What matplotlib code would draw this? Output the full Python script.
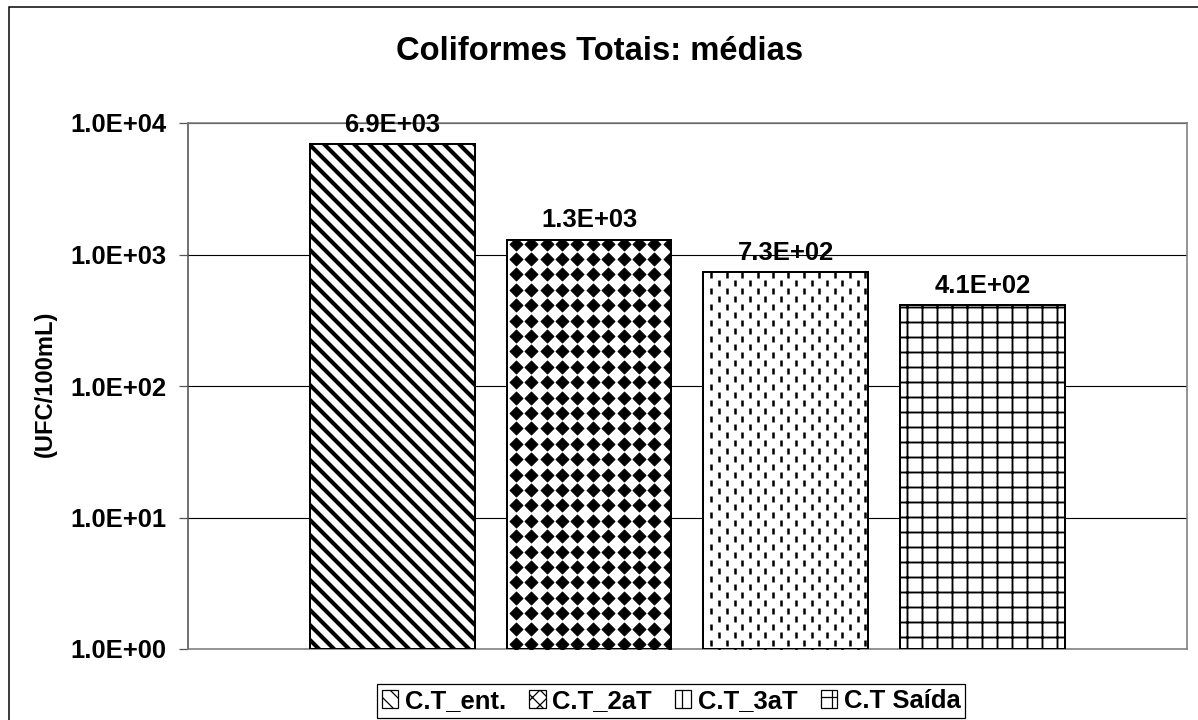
import matplotlib
matplotlib.use('Agg')
import numpy as np
import matplotlib.pyplot as plt
from matplotlib.patches import Patch, Rectangle
from matplotlib.ticker import FuncFormatter, NullLocator
from matplotlib.transforms import IdentityTransform

# Data
series = ['C.T_ent.', 'C.T_2aT', 'C.T_3aT', 'C.T Saída']
means = [6.9e3, 1.3e3, 7.3e2, 4.1e2]
value_labels = ['6.9E+03', '1.3E+03', '7.3E+02', '4.1E+02']
yticks = [1e0, 1e1, 1e2, 1e3, 1e4]
y_floor = 1.0

plt.rcParams['font.family'] = ['Liberation Sans', 'DejaVu Sans']
plt.rcParams['font.weight'] = 'bold'

DPI = 90  # hatch spacing works out to ~15 px at this dpi
W, H = 1198, 720
fig = plt.figure(figsize=(W / DPI, H / DPI), dpi=DPI)
ax = fig.add_axes([188 / W, 71 / H, 999 / W, 526 / H])

ax.set_yscale('log')
ax.set_ylim(yticks[0], yticks[-1])
ax.set_xlim(-1.039, 4.04)


def texture(ax, patch, marker, size, lw, step_x, step_y, x_off, y_off, stagger=False):
    """Fill a bar with a grid of markers (pixel space), clipped to the bar."""
    bb = patch.get_window_extent()
    xs, ys = [], []
    i = 0
    px = bb.x0 + x_off
    while px < bb.x1 + step_x:
        shift = step_y / 2 if (stagger and i % 2) else 0
        py = bb.y1 - y_off - shift
        while py > bb.y0 - step_y:
            xs.append(px)
            ys.append(py)
            py -= step_y
        px += step_x
        i += 1
    sc = ax.scatter(xs, ys, marker=marker, s=size ** 2, c='black', linewidths=lw,
                    transform=IdentityTransform(), zorder=3)
    sc.set_clip_path(patch)
    return sc


x = np.arange(len(series))
hatches = ['\\\\', None, None, '+']
hatch_lw = [3.3, 1.0, 1.0, 1.5]
bars = []
for i in range(len(series)):
    with plt.rc_context({'hatch.linewidth': hatch_lw[i]}):
        b = ax.bar(x[i], means[i] - y_floor, bottom=y_floor, width=0.837,
                   color='white', edgecolor='black', linewidth=0, hatch=hatches[i], zorder=2)
    p = b[0]
    if hasattr(p, 'set_hatch_linewidth'):
        p.set_hatch_linewidth(hatch_lw[i])
    bars.append(p)

# custom fills: diamonds and staggered dashes
texture(ax, bars[1], 'D', 7.3, 0.8, 15.4, 15.4, 9, 4)
texture(ax, bars[2], '|', 5.2, 2.0, 7.7, 16, 8, 3, stagger=True)

# outlines on top
ax.bar(x, np.array(means) - y_floor, bottom=y_floor, width=0.837, fill=False,
       edgecolor='black', linewidth=1.6, zorder=4)

for xi, v, lab in zip(x, means, value_labels):
    ax.annotate(lab, (xi, v), xytext=(0, 6), textcoords='offset points',
                ha='center', va='bottom', fontsize=20.5, fontweight='bold')

# axes styling
ax.set_yticks(yticks)
ax.yaxis.set_minor_locator(NullLocator())
ax.yaxis.set_major_formatter(FuncFormatter(lambda v, _: f'{v:.1E}'))
ax.tick_params(axis='y', length=7.2, width=1, color='#555555', pad=10, labelsize=20.5)
ax.tick_params(axis='x', bottom=False, labelbottom=False)
ax.yaxis.grid(True, color='black', linewidth=0.9)
ax.set_axisbelow(True)
for s in ax.spines.values():
    s.set_color('#808080')
    s.set_linewidth(1.3)
ax.spines['left'].set_color('#555555')

fig.text(600 / W, 1 - 52 / H, 'Coliformes Totais: médias', ha='center', va='center',
         fontsize=26.2, fontweight='bold')
fig.text(45 / W, 1 - 384 / H, '(UFC/100mL)', rotation=90, ha='center', va='center',
         fontsize=19, fontweight='bold')

# chart border (runs past the right and bottom of the image)
fig.patches.append(Rectangle((9 / W, -0.05), 1.2, 1 - 7 / H + 0.05, transform=fig.transFigure,
                             fill=False, edgecolor='black', linewidth=1.2))

handles = [Patch(facecolor='white', edgecolor='black', hatch='\\\\'),
           Patch(facecolor='white', edgecolor='black', hatch='xx'),
           Patch(facecolor='white', edgecolor='black', hatch='|'),
           Patch(facecolor='white', edgecolor='black', hatch='+')]
leg = fig.legend(handles, series, loc='center', bbox_to_anchor=(671 / W, 1 - 701 / H), ncol=4,
                 fontsize=20.5, frameon=True, fancybox=False, edgecolor='black', framealpha=1,
                 handlelength=0.65, handleheight=0.65, handletextpad=0.25, columnspacing=0.9,
                 borderpad=0.2, borderaxespad=0)
leg.get_frame().set_linewidth(1)

fig.savefig('out.png', dpi=DPI)
